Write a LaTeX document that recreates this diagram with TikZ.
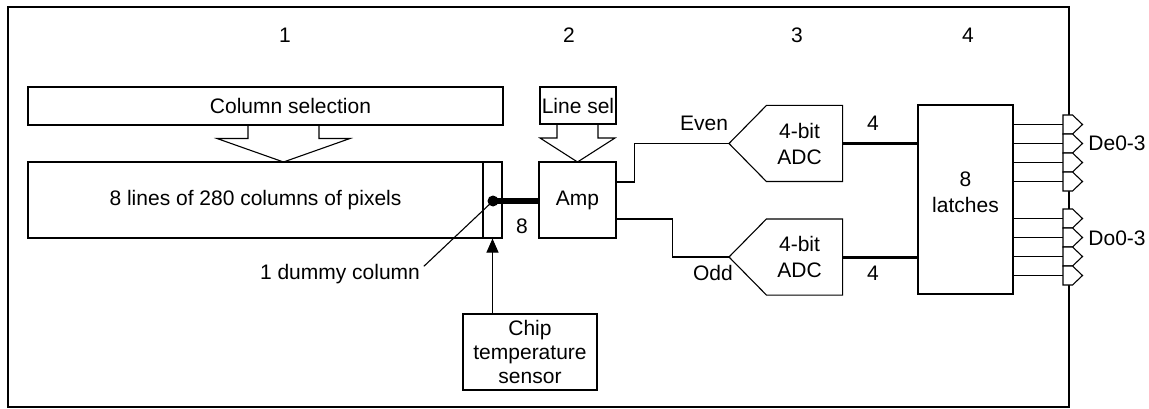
\documentclass[tikz,border=0pt]{standalone}
\usepackage{fontspec}
\setmainfont{Liberation Sans}
\usetikzlibrary{arrows.meta}

\begin{document}
\begin{tikzpicture}[x=1pt,y=-1pt,font=\fontsize{21}{24}\selectfont,line width=1.1pt]
	\tikzstyle{block}=[draw,rectangle,inner sep=0pt,align=center]
	\tikzstyle{adc}=[rectangle,inner sep=0pt,minimum width=75,minimum height=75]
	\tikzstyle{wire}=[draw,line width=1.1pt]
	\tikzstyle{busfat}=[draw,line width=6.5pt]
	\tikzstyle{busthin}=[draw,line width=3pt]
	\tikzstyle{pin}=[draw,fill=white,line width=1.1pt]
	\useasboundingbox (0,0) rectangle (1149,409);
	% chip outline
	\draw[line width=2.2pt] (8,7) rectangle (1069,407);
	% stage numbers
	\node (n1) at (285,35) {1};
	\node (n2) at (569,35) {2};
	\node (n3) at (797,35) {3};
	\node (n4) at (968,35) {4};
	% blocks
	\node [block,minimum width=475,minimum height=38,label={[xshift=25pt]center:Column selection}] (colsel) at (265.5,106) {};
	\node [block,minimum width=455,minimum height=76] (pixels) at (255.5,200) {8 lines of 280 columns of pixels};
	\node [block,minimum width=19,minimum height=76] (dummy) at (492.5,200) {};
	\node [block,minimum width=76,minimum height=37] (linesel) at (578,105.5) {Line sel};
	\node [block,minimum width=77,minimum height=76] (amp) at (577.5,200) {Amp};
	\node [block,minimum width=134,minimum height=76] (chip) at (530,352) {Chip\\temperature\\sensor};
	\node [adc,label={[xshift=-5pt,align=center]center:4-bit\\[2pt]ADC}] (adceven) at (804.5,143.5) {};
	\node [adc,label={[xshift=-5pt,align=center]center:4-bit\\[2pt]ADC}] (adcodd) at (804.5,257) {};
	\node [block,minimum width=95,minimum height=189,label={[yshift=7pt,align=center]center:8\\[2pt]latches}] (latch) at (965.5,199.5) {};
	\coordinate (eventip) at (729,143.5);
	\coordinate (oddtip) at (729,257);
	\draw (adceven.north west) -- (adceven.north east) -- (adceven.south east) -- (adceven.south west) -- (eventip) -- cycle;
	\draw (adcodd.north west) -- (adcodd.north east) -- (adcodd.south east) -- (adcodd.south west) -- (oddtip) -- cycle;
	% selection arrows
	\draw (248,125) -- (248,138.5) -- (217,138.5) -- (283.5,162) -- (350,138.5) -- (319,138.5) -- (319,125);
	\draw (557,124) -- (557,138) -- (540,138) -- (577.5,162) -- (615,138) -- (598,138) -- (598,124);
	% dummy column and sensor
	\node [circle,fill,inner sep=0pt,minimum size=11] (dot) at (493,201) {};
	\node (dumlbl) at (340,274) {1 dummy column};
	\path[wire] (dot.center) edge ([yshift=-6pt]dumlbl.north east);
	\path[busfat] (dot.center) -- (dot -| amp.west);
	\node (w8) at (522,226) {8};
	\draw[-{Triangle[length=14pt,width=12pt]}] (chip.north -| dummy.south) -- (dummy.south);
	% even / odd paths
	\draw ([yshift=18pt]amp.east) -- ++(18,0) |- (eventip);
	\draw ([yshift=-19pt]amp.east) -- ++(56,0) |- (oddtip);
	\node (evenlbl) at (704,123) {Even};
	\node (oddlbl) at (713,273) {Odd};
	\path[busthin] (adceven.east) -- (adceven.east -| latch.west);
	\path[busthin] (adcodd.east) -- (adcodd.east -| latch.west);
	\node (w4e) at (873,123) {4};
	\node (w4o) at (873,273) {4};
	% output pins
	\foreach \y [count=\i] in {124.5,143.5,162.5,181.5} {
		\coordinate (de\i) at (1063,\y);
		\draw (latch.east |- de\i) -- (de\i);
		\draw[pin] (de\i) ++(0,-9.5) -- ++(9.5,0) -- ++(10,9.5) -- ++(-10,9.5) -- ++(-9.5,0) -- cycle;
	}
	\foreach \y [count=\i] in {218.5,237.5,256.5,275.5} {
		\coordinate (do\i) at (1063,\y);
		\draw (latch.east |- do\i) -- (do\i);
		\draw[pin] (do\i) ++(0,-9.5) -- ++(9.5,0) -- ++(10,9.5) -- ++(-10,9.5) -- ++(-9.5,0) -- cycle;
	}
	\node (delbl) at (1117,143) {De0-3};
	\node (dolbl) at (1117,238) {Do0-3};
\end{tikzpicture}
\end{document}
